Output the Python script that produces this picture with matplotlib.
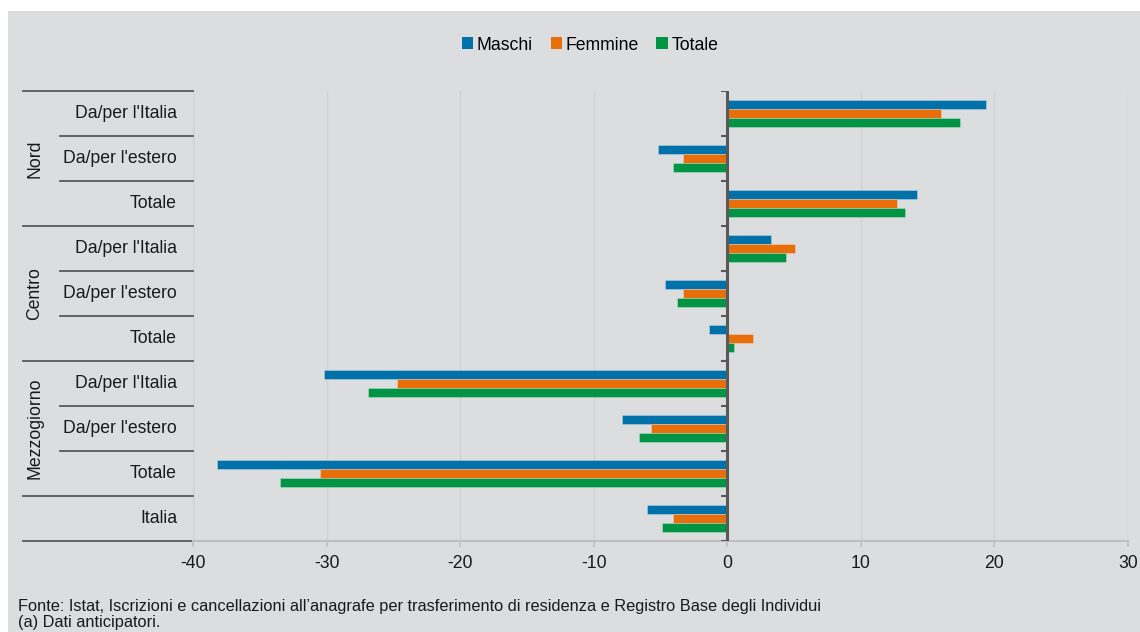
import matplotlib.pyplot as plt
import numpy as np
from matplotlib import transforms
from matplotlib.patches import Patch, Rectangle

plt.rcParams['font.family'] = ['Liberation Sans', 'DejaVu Sans']
plt.rcParams['axes.unicode_minus'] = False

categories = ["Da/per l'Italia", "Da/per l'estero", "Totale",
              "Da/per l'Italia", "Da/per l'estero", "Totale",
              "Da/per l'Italia", "Da/per l'estero", "Totale",
              "Italia"]
groups = ["Nord", "Centro", "Mezzogiorno"]
series = ["Maschi", "Femmine", "Totale"]

maschi = [19.4, -5.2, 14.2, 3.3, -4.7, -1.4, -30.2, -7.9, -38.2, -6.0]
femmine = [16.0, -3.3, 12.7, 5.1, -3.3, 1.9, -24.7, -5.7, -30.5, -4.1]
totale = [17.4, -4.1, 13.3, 4.4, -3.8, 0.5, -26.9, -6.6, -33.5, -4.9]

source = "Fonte: Istat, Iscrizioni e cancellazioni all\u2019anagrafe per trasferimento di residenza e Registro Base degli Individui"
note = "(a) Dati anticipatori."

colors = ['#0071a9', '#e86e0a', '#009444']
bg = '#dcdddf'
dark = '#595959'
W, H = 1140, 632

fig = plt.figure(figsize=(W / 100, H / 100), dpi=100)
fig.patch.set_facecolor('white')
fig.patches.append(Rectangle((8 / W, 0), 1, (H - 11) / H, transform=fig.transFigure,
                             facecolor=bg, edgecolor='none', zorder=-10))

ax = fig.add_axes([193 / W, 1 - 541 / H, (1128 - 193) / W, (541 - 91) / H])
ax.set_facecolor('none')

y = np.arange(len(categories))
bh = 0.2
handles = []
for k, (vals, name) in enumerate(zip([maschi, femmine, totale], series)):
    ax.barh(y + (k - 1) * bh, vals, height=bh, color=colors[k],
            edgecolor=(1, 1, 1, 0.3), linewidth=0.6, zorder=3)
    handles.append(Patch(facecolor=colors[k], label=name))

ax.set_xlim(-40, 30)
ax.set_ylim(len(categories) - 0.5, -0.5)
ax.set_xticks(np.arange(-40, 31, 10))
ax.set_yticks([])
ax.grid(axis='x', color='#d1d2d4', linewidth=1, zorder=0)
for s in ['left', 'right', 'top']:
    ax.spines[s].set_visible(False)
ax.spines['bottom'].set_color('#bfbfbf')
ax.spines['bottom'].set_linewidth(1.5)
ax.tick_params(axis='x', colors='#bfbfbf', length=4, width=1.2, labelsize=12.7,
               labelcolor='#1a1a1a', pad=6)

# zero line with category ticks
ax.axvline(0, color=dark, linewidth=2.2, zorder=4)
bounds = np.arange(-0.5, len(categories), 1.0)
ax.hlines(bounds, -0.45, 0, color=dark, linewidth=1.5, zorder=4)

# left category table
tr = transforms.blended_transform_factory(fig.transFigure, ax.transData)
long_b = [-0.5, 2.5, 5.5, 8.5, 9.5]
for b in bounds:
    x0 = 23 / W if b in long_b else 60 / W
    ax.plot([x0, 193 / W], [b, b], transform=tr, color=dark, linewidth=1.3, clip_on=False)
for i, lab in enumerate(categories):
    ax.text(177 / W, i, lab, transform=tr, ha='right', va='center', fontsize=12.7, color='#1a1a1a')
for g, name in enumerate(groups):
    ax.text(35 / W, g * 3 + 1, name, transform=tr, ha='center', va='center',
            rotation=90, fontsize=12.7, color='#1a1a1a')

fig.legend(handles=handles, loc='center', bbox_to_anchor=(590 / W, 1 - 45 / H), ncol=3,
           frameon=False, fontsize=12.7, handlelength=0.65, handleheight=0.65,
           handletextpad=0.2, columnspacing=1.0)

fig.text(18 / W, 1 - 606 / H, source, ha='left', va='center', fontsize=11.8, color='#1a1a1a')
fig.text(18 / W, 1 - 622 / H, note, ha='left', va='center', fontsize=11.8, color='#1a1a1a')

fig.savefig('out.png', dpi=100)
